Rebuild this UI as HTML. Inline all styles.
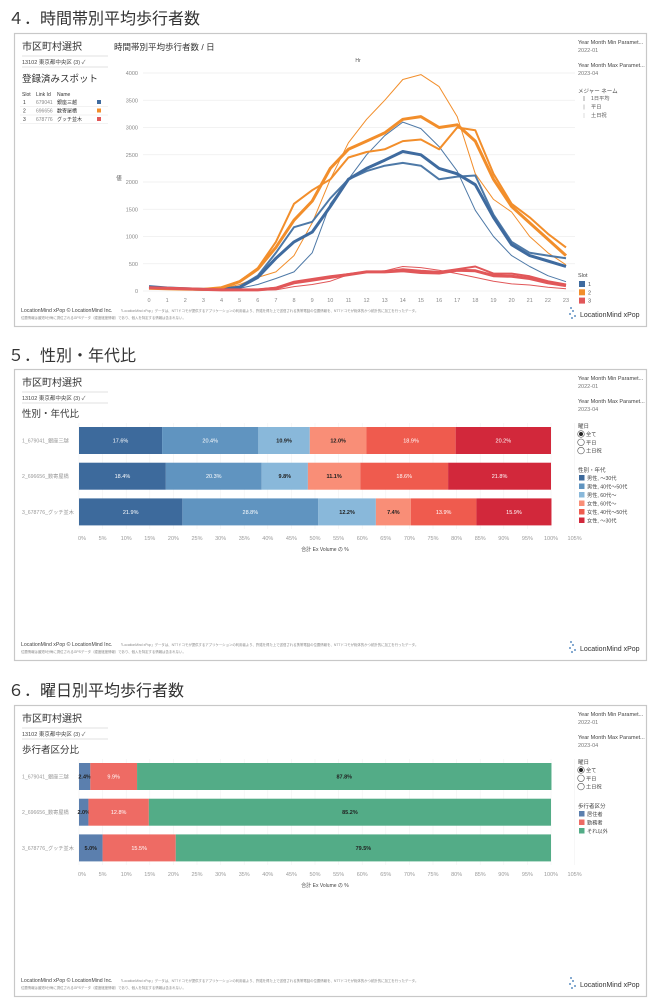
<!DOCTYPE html>
<html><head><meta charset="utf-8">
<style>
html,body{margin:0;padding:0;background:#fff;}
svg{display:block;font-family:"Liberation Sans","Noto Sans CJK JP",sans-serif;}
</style></head>
<body>
<svg id="root" width="659" height="1003" viewBox="0 0 659 1003" xmlns="http://www.w3.org/2000/svg">
<text x="8" y="24" font-size="16" fill="#333">４．時間帯別平均歩行者数</text>
<text x="8" y="361" font-size="16" fill="#333">５．性別・年代比</text>
<text x="8" y="696" font-size="16" fill="#333">６．曜日別平均歩行者数</text>
</svg>
<script>
const NS='http://www.w3.org/2000/svg';
const root=document.getElementById('root');
function mk(tag,attrs,parent,txt){const e=document.createElementNS(NS,tag);for(const k in attrs)e.setAttribute(k,attrs[k]);if(txt!==undefined)e.textContent=txt;(parent||root).appendChild(e);return e;}

/* ---------- chart 1 data ---------- */
const hours=[0,1,2,3,4,5,6,7,8,9,10,11,12,13,14,15,16,17,18,19,20,21,22,23];
const yTicks=[0,500,1000,1500,2000,2500,3000,3500,4000];
const slot1Avg=[80,55,40,30,35,70,250,600,900,1080,1550,2050,2250,2400,2560,2500,2250,2150,1950,1350,850,650,550,450];
const slot1Weekday=[70,50,40,30,35,80,280,700,1170,1270,1700,2050,2200,2300,2350,2300,2050,2100,2120,1400,900,700,650,600];
const slot1Holiday=[90,60,40,30,30,50,120,230,350,700,1600,2050,2500,2850,3100,2980,2650,2200,1480,1000,650,450,280,170];
const slot2Avg=[50,40,35,30,60,170,400,800,1300,1650,2250,2600,2750,2900,3150,3200,3000,3050,2750,2050,1550,1250,950,650];
const slot2Weekday=[50,40,35,30,60,180,420,900,1600,1850,2050,2450,2550,2600,2750,2780,2600,3000,2950,2150,1600,1350,1050,800];
const slot2Holiday=[40,35,30,25,40,120,250,350,650,1250,2050,2720,3150,3500,3880,3970,3750,3200,2150,1680,1450,1000,700,480];
const slot3Avg=[60,50,40,30,20,20,20,50,150,200,250,300,350,350,370,340,330,380,370,280,270,230,150,100];
const slot3Weekday=[50,45,40,30,20,20,25,60,170,220,270,310,350,360,400,370,350,400,450,320,320,270,180,120];
const slot3Holiday=[80,60,40,30,20,15,15,20,80,120,180,300,350,370,450,430,380,320,250,180,130,110,70,40];

/* ---------- bar chart data ---------- */
const barTicks=[0,5,10,15,20,25,30,35,40,45,50,55,60,65,70,75,80,85,90,95,100,105];
const spotLabels=['1_679041_銀座三越','2_696656_数寄屋橋','3_678776_グッチ並木'];
const ageCats=['男性, ～30代','男性, 40代～50代','男性, 60代～','女性, 60代～','女性, 40代～50代','女性, ～30代'];
const ageRow1=[17.6,20.4,10.9,12.0,18.9,20.2];
const ageRow2=[18.4,20.3,9.8,11.1,18.6,21.8];
const ageRow3=[21.9,28.8,12.2,7.4,13.9,15.9];
const walkerCats=['居住者','勤務者','それ以外'];
const walkRow1=[2.4,9.9,87.8];
const walkRow2=[2.0,12.8,85.2];
const walkRow3=[5.0,15.5,79.5];

const ageColors=['#3d6a9c','#6094c0','#89b8da','#f98e77','#ef5b4e','#d2283b'];
const ageDark=[false,false,true,true,false,false];
const walkColors=['#5b7fae','#ee6b64','#53ac87'];
const walkDark=[true,false,true];

/* ---------- common panel ---------- */
function panel(top,h,name){
  const p=mk('rect',{x:14.5,y:top+0.5,width:632,height:h,fill:'#fff',stroke:'#c8c8c8','stroke-width':1.2});
  
  
  let t=mk('text',{x:22,y:top+17,'font-size':10,fill:'#333'},root,'市区町村選択');
  
  
  let l=mk('line',{x1:22,x2:108,y1:top+23,y2:top+23,stroke:'#e2e2e2'});
  
  
  let d=mk('text',{x:22,y:top+31,'font-size':5.5,fill:'#444'},root,'13102 東京都中央区 (3) ✓');
  
  
  let l2=mk('line',{x1:22,x2:108,y1:top+34,y2:top+34,stroke:'#e2e2e2'});
  
  
  const rx=578;
  let a=mk('text',{x:rx,y:top+11,'font-size':5.5,fill:'#444'},root,'Year Month Min Paramet...');
  
  
  let b=mk('text',{x:rx,y:top+19,'font-size':5.5,fill:'#777'},root,'2022-01');
  
  
  let c=mk('text',{x:rx,y:top+34,'font-size':5.5,fill:'#444'},root,'Year Month Max Paramet...');
  
  
  let e=mk('text',{x:rx,y:top+42,'font-size':5.5,fill:'#777'},root,'2023-04');
  
  
  const fy=top+h-14;
  let f=mk('text',{x:21,y:fy,'font-size':5.2,fill:'#444'},root,'LocationMind xPop © LocationMind Inc.');
  
  
  let f2=mk('text',{x:119,y:fy,'font-size':3.4,fill:'#888'},root,'「LocationMind xPop」データは、NTTドコモが提供するアプリケーションの利用者より、許諾を得た上で送信される携帯電話の位置情報を、NTTドコモが総体的かつ統計的に加工を行ったデータ。');
  
  
  let f3=mk('text',{x:21,y:fy+7,'font-size':3.4,fill:'#888'},root,'位置情報は最短5分毎に測位されるGPSデータ（緯度経度情報）であり、個人を特定する情報は含まれない。');
  
  
  const g=mk('g',{});
  
  
  [[571,fy-4],[573,fy-1],[570,fy+2],[575,fy+4],[572,fy+6]].forEach(pt=>{mk('circle',{cx:pt[0],cy:pt[1],r:0.9,fill:'#2f6fb0'},g);});
  mk('text',{x:580,y:fy+5,'font-size':7,fill:'#333'},g,'LocationMind xPop');
}

/* ---------- panel 1 : line chart ---------- */
panel(33,293,'hourly-panel');
const X0=149,XS=18.13,Y0=291,YS=0.0545;
const xs=h=>X0+h*XS, ys=v=>Y0-v*YS;
let t1=mk('text',{x:114,y:50,'font-size':8.5,fill:'#333'},root,'時間帯別平均歩行者数 / 日');


let hr=mk('text',{x:358,y:62,'font-size':5,fill:'#555','text-anchor':'middle'},root,'Hr');


let yt=mk('text',{x:119,y:180,'font-size':5.5,fill:'#555','text-anchor':'middle'},root,'値');


yTicks.forEach(v=>{
  const gl=mk('line',{x1:143,x2:575,y1:ys(v),y2:ys(v),stroke:'#eeeeee','stroke-width':0.7});
  
  
  const tl=mk('text',{x:138,y:ys(v)+2,'font-size':5.5,fill:'#888','text-anchor':'end'},root,String(v));
  
  
});
hours.forEach(h=>{
  const tl=mk('text',{x:xs(h),y:302,'font-size':5.5,fill:'#888','text-anchor':'middle'},root,String(h));
  
  
});
const seriesList=[
  [slot1Holiday,'#4e79a7',1,'slot1-holiday-line'],[slot2Holiday,'#f28e2b',1,'slot2-holiday-line'],[slot3Holiday,'#e15759',1,'slot3-holiday-line'],
  [slot1Weekday,'#4e79a7',2,'slot1-weekday-line'],[slot2Weekday,'#f28e2b',2,'slot2-weekday-line'],[slot3Weekday,'#e15759',2,'slot3-weekday-line'],
  [slot1Avg,'#3f6b9f',3,'slot1-average-line'],[slot2Avg,'#f28e2b',3,'slot2-average-line'],[slot3Avg,'#e15759',3,'slot3-average-line']
];
seriesList.forEach(s=>{
  const d=s[0].map((v,i)=>(i?'L':'M')+xs(hours[i]).toFixed(1)+' '+ys(v).toFixed(1)).join(' ');
  const p=mk('path',{d:d,fill:'none',stroke:s[1],'stroke-width':s[2],'stroke-linejoin':'round'});
  
  
});
let sp=mk('text',{x:22,y:82,'font-size':9.5,fill:'#333'},root,'登録済みスポット');


[['Slot',22],['Link Id',36],['Name',57]].forEach(hd=>{
  const e=mk('text',{x:hd[1],y:96,'font-size':5,fill:'#333'},root,hd[0]);
  
  
});
const spotRows=[['1','679041','銀座三越','#3f6b9f'],['2','696656','数寄屋橋','#f28e2b'],['3','678776','グッチ並木','#e15759']];
spotRows.forEach((r,i)=>{
  const y=104+i*8.5;
  const rl=mk('line',{x1:20,x2:108,y1:y+2.5,y2:y+2.5,stroke:'#e6e6e6','stroke-width':0.6});
  
  
  const a=mk('text',{x:23,y:y,'font-size':5,fill:'#333'},root,r[0]);
  
  
  const b=mk('text',{x:36,y:y,'font-size':5,fill:'#888'},root,r[1]);
  
  
  const c=mk('text',{x:57,y:y,'font-size':5,fill:'#333'},root,r[2]);
  
  
  const sq=mk('rect',{x:97,y:y-4,width:4,height:4,fill:r[3]});
  
  
});
let ml=mk('text',{x:578,y:93,'font-size':5.5,fill:'#444'},root,'メジャー ネーム');


['1日平均','平日','土日祝'].forEach((m,i)=>{
  const y=100+i*8.5;
  const ln=mk('line',{x1:584,x2:584,y1:y-4,y2:y+1,stroke:'#bbb','stroke-width':[1.4,0.9,0.5][i]});
  
  
  const tx=mk('text',{x:591,y:y,'font-size':5.2,fill:'#555'},root,m);
  
  
});
let sl=mk('text',{x:578,y:277,'font-size':5.5,fill:'#444'},root,'Slot');


['#3f6b9f','#f28e2b','#e15759'].forEach((c,i)=>{
  const y=281+i*8.3;
  const r=mk('rect',{x:579,y:y,width:6,height:6,fill:c});
  
  
  const tx=mk('text',{x:588,y:y+5,'font-size':5.5,fill:'#555'},root,String(i+1));
  
  
});

/* ---------- bar panels ---------- */
const BX0=79,BXS=4.72;
const bx=p=>BX0+p*BXS;
function barChart(top,title,rows,colors,dark,cats,legendTitle,prefix){
  panel(top,291,prefix+'-panel');
  const tt=mk('text',{x:22,y:top+48,'font-size':9.5,fill:'#333'},root,title);
  
  
  barTicks.forEach(v=>{
    const gl=mk('line',{x1:bx(v),x2:bx(v),y1:top+54,y2:top+160,stroke:'#f2f2f2','stroke-width':0.6});
    
    
    const tl=mk('text',{x:bx(v)+(v===0?3:0),y:top+171,'font-size':5.5,fill:'#999','text-anchor':'middle'},root,v+'%');
    
    
  });
  const at=mk('text',{x:325,y:top+182,'font-size':5,fill:'#444','text-anchor':'middle'},root,'合計 Ex Volume の %');
  
  
  rows.forEach((vals,ri)=>{
    const y=top+58+ri*35.7;
    const lb=mk('text',{x:22,y:y+15.5,'font-size':5.2,fill:'#999'},root,spotLabels[ri]);
    
    
    let acc=0;
    vals.forEach((v,si)=>{
      const x1=bx(acc),x2=bx(acc+v);
      const r=mk('rect',{x:x1,y:y,width:Math.max(0,x2-x1),height:27,fill:colors[si]});
      
      
      const tx=mk('text',{x:(x1+x2)/2,y:y+15.5,'font-size':5.5,fill:dark[si]?'#222':'#fff','text-anchor':'middle','font-weight':dark[si]?'bold':'normal'},root,v.toFixed(1)+'%');
      
      
      acc+=v;
    });
  });
  const wt=mk('text',{x:578,y:top+59,'font-size':5.5,fill:'#444'},root,'曜日');
  
  
  ['全て','平日','土日祝'].forEach((o,i)=>{
    const y=top+65+i*8.3;
    const c=mk('circle',{cx:581,cy:y,r:3.3,fill:'#fff',stroke:'#555','stroke-width':0.6});
    
    
    if(i===0){const dd=mk('circle',{cx:581,cy:y,r:2,fill:'#222'});
      
      }
    const tx=mk('text',{x:586,y:y+2,'font-size':5.2,fill:'#444'},root,o);
    
    
  });
  const lt=mk('text',{x:578,y:top+103,'font-size':5.5,fill:'#444'},root,legendTitle);
  
  
  cats.forEach((c,i)=>{
    const y=top+106+i*8.5;
    const r=mk('rect',{x:579,y:y,width:5.5,height:5.5,fill:colors[i]});
    
    
    const tx=mk('text',{x:587,y:y+5,'font-size':5.2,fill:'#444'},root,c);
    
    
  });
}
barChart(369,'性別・年代比',[ageRow1,ageRow2,ageRow3],ageColors,ageDark,ageCats,'性別・年代','gender-age');
barChart(705,'歩行者区分比',[walkRow1,walkRow2,walkRow3],walkColors,walkDark,walkerCats,'歩行者区分','walker-type');
</script>
</body></html>
